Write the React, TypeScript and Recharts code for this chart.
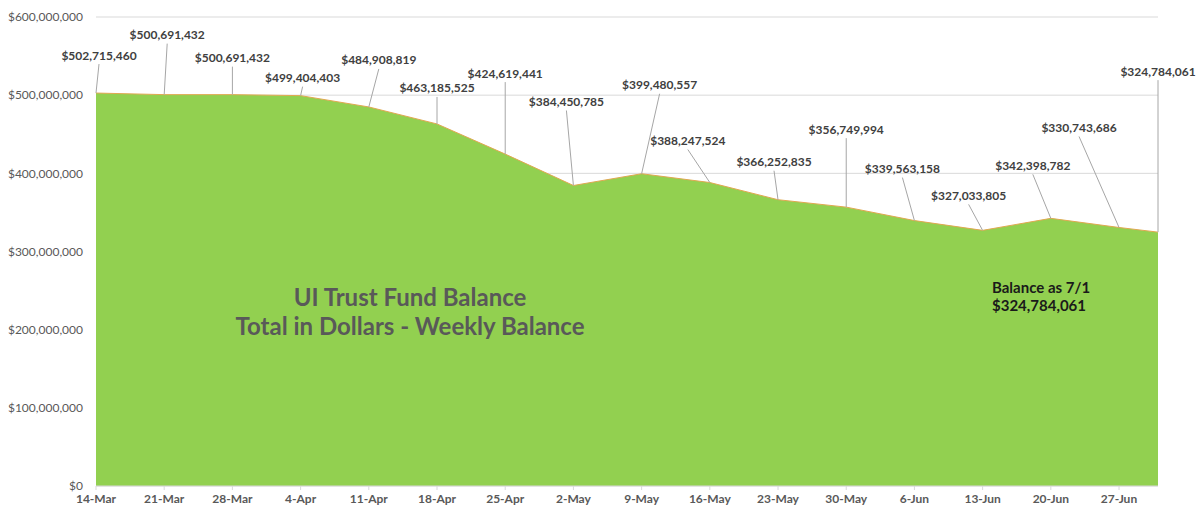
import React from 'react';
import { AreaChart, Area, XAxis, YAxis, CartesianGrid, LabelList } from 'recharts';

const dates = [
  '2020-03-14', '2020-03-21', '2020-03-28', '2020-04-04', '2020-04-11', '2020-04-18',
  '2020-04-25', '2020-05-02', '2020-05-09', '2020-05-16', '2020-05-23', '2020-05-30',
  '2020-06-06', '2020-06-13', '2020-06-20', '2020-06-27', '2020-07-01',
];
const balances = [
  502715460, 500691432, 500691432, 499404403, 484908819, 463185525,
  424619441, 384450785, 399480557, 388247524, 366252835, 356749994,
  339563158, 327033805, 342398782, 330743686, 324784061,
];
const tickLabels = [
  '14-Mar', '21-Mar', '28-Mar', '4-Apr', '11-Apr', '18-Apr', '25-Apr', '2-May',
  '9-May', '16-May', '23-May', '30-May', '6-Jun', '13-Jun', '20-Jun', '27-Jun',
];
const yTicks = [0, 100000000, 200000000, 300000000, 400000000, 500000000, 600000000];
const titleLines = ['UI Trust Fund Balance', 'Total in Dollars - Weekly Balance'];
const noteLines = ['Balance as 7/1', '$324,784,061'];

// label placement (pixel offsets of each data label from its point)
const labelOffsets: [number, number][] = [
  [3, -38], [3, -60], [0, -37], [2, -18], [10, -47], [0, -36], [0, -81], [-7, -84],
  [18, -89], [-22, -42], [-4, -38], [0, -78], [-12, -52], [-14, -35], [-18, -53],
  [-40, -100], [0, -161],
];

const DAY = 86400000;
const t0 = Date.parse(dates[0]);
const toDay = (d: string) => Math.round((Date.parse(d) - t0) / DAY);
const data = dates.map((d, i) => ({ day: toDay(d), balance: balances[i] }));
const tickDays = dates.slice(0, tickLabels.length).map(toDay);
const lastDay = toDay(dates[dates.length - 1]);

const money = (v: number) => '$' + Math.round(v).toLocaleString('en-US');

const DataLabel = (props: any) => {
  const { x, y, value, index } = props;
  if (x == null || y == null) return null;
  const [dx, dy] = labelOffsets[index] || [0, -20];
  const lx = x + dx;
  const ly = y + dy;
  return (
    <g>
      <line x1={x} y1={y} x2={lx} y2={ly + 9} stroke="#A6A6A6" strokeWidth={1} />
      <text
        x={lx}
        y={ly}
        textAnchor="middle"
        dominantBaseline="central"
        fontFamily="Lato"
        fontWeight={700}
        fontSize={12}
        fill="#404040"
      >
        {money(value)}
      </text>
    </g>
  );
};

export default function App() {
  return (
    <div style={{ position: 'absolute', left: 0, top: 0, width: 1203, height: 510, background: '#fff', fontFamily: 'Lato' }}>
      <AreaChart width={1203} height={510} data={data} margin={{ top: 17, right: 45, bottom: 0, left: 0 }}>
        <CartesianGrid vertical={false} stroke="#D9D9D9" strokeWidth={1} />
        <XAxis
          dataKey="day"
          type="number"
          domain={[0, lastDay]}
          ticks={tickDays}
          tickFormatter={(v: number) => tickLabels[tickDays.indexOf(v)] ?? ''}
          height={24}
          tickSize={4}
          tickMargin={4}
          axisLine={{ stroke: '#D9D9D9' }}
          tickLine={{ stroke: '#D9D9D9' }}
          tick={{ fill: '#595959', fontSize: 12, fontWeight: 700, fontFamily: 'Lato' }}
          interval={0}
          allowDataOverflow
        />
        <YAxis
          type="number"
          domain={[0, 600000000]}
          ticks={yTicks}
          tickFormatter={money}
          width={96}
          axisLine={false}
          tickLine={false}
          tickMargin={7}
          tick={{ fill: '#595959', fontSize: 12, fontFamily: 'Lato' }}
        />
        <Area
          type="linear"
          dataKey="balance"
          fill="#92D050"
          fillOpacity={1}
          stroke="#E0A850"
          strokeWidth={1}
          isAnimationActive={false}
          dot={false}
          activeDot={false}
        >
          <LabelList dataKey="balance" content={DataLabel} />
        </Area>
      </AreaChart>
      <div style={{ position: 'absolute', left: 160, top: 282, width: 500, textAlign: 'center', color: '#595959', fontWeight: 700, fontSize: 24, lineHeight: '29px' }}>
        {titleLines.map((l) => (
          <div key={l}>{l}</div>
        ))}
      </div>
      <div style={{ position: 'absolute', left: 992, top: 278, color: '#1a1a1a', fontWeight: 700, fontSize: 15, lineHeight: '18px' }}>
        {noteLines.map((l) => (
          <div key={l}>{l}</div>
        ))}
      </div>
    </div>
  );
}
